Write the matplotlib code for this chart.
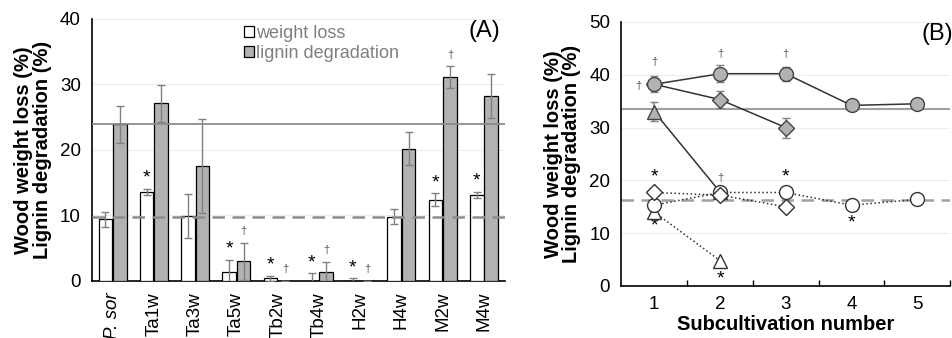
import numpy as np
import matplotlib.pyplot as plt

plt.rcParams['font.family'] = ['Liberation Sans', 'DejaVu Sans']

# panel A data
strains = ['P. sor', 'Ta1w', 'Ta3w', 'Ta5w', 'Tb2w', 'Tb4w', 'H2w', 'H4w', 'M2w', 'M4w']
weight_loss = [9.4, 13.6, 9.9, 1.4, 0.4, 0.0, 0.0, 9.8, 12.4, 13.1]
weight_err = [1.1, 0.5, 3.3, 1.8, 0.4, 1.2, 0.4, 1.1, 1.0, 0.5]
lignin_deg = [23.9, 27.1, 17.5, 3.0, 0.0, 1.4, 0.0, 20.2, 31.1, 28.2]
lignin_err = [2.8, 2.8, 7.2, 2.8, 0.0, 1.5, 0.0, 2.5, 1.7, 3.4]
star_a = [1, 3, 4, 5, 6, 8, 9]        # * over weight-loss bars
dagger_a = [3, 4, 5, 6, 8]            # † over lignin bars
ref_lignin_a = 24.0
ref_weight_a = 9.8

# panel B data
sub = [1, 2, 3, 4, 5]
lig_circle = [38.2, 40.2, 40.2, 34.2, 34.5]
lig_circle_err = [1.5, 1.6, 1.3, 0.5, 0.8]
lig_diamond = [38.2, 35.3, 30.0]
lig_diamond_err = [1.0, 1.6, 1.9]
lig_triangle = [33.0, 17.8]
lig_triangle_err = [1.8, 0.5]
wl_circle = [15.3, 17.7, 17.7, 15.3, 16.4]
wl_diamond = [17.7, 17.2, 15.0]
wl_triangle = [14.0, 4.8]
ref_lignin_b = 33.6
ref_weight_b = 16.3

gray = '#b2b2b2'
errc = '#808080'

fig = plt.figure(figsize=(9.53, 3.38), dpi=100)
axA = fig.add_axes([0.0965, 0.169, 0.433, 0.775])
axB = fig.add_axes([0.652, 0.154, 0.345, 0.781])

# ---- panel A ----
x = np.arange(len(strains))
w = 0.33
axA.bar(x - 0.175, weight_loss, w, color='white', edgecolor='black', lw=0.9, zorder=3)
axA.bar(x + 0.175, lignin_deg, w, color=gray, edgecolor='black', lw=0.9, zorder=3)
axA.errorbar(x - 0.175, weight_loss, yerr=weight_err, fmt='none', ecolor=errc,
             capsize=3, elinewidth=1, zorder=4)
axA.errorbar(x + 0.175, lignin_deg, yerr=lignin_err, fmt='none', ecolor=errc,
             capsize=3, elinewidth=1, zorder=4)
axA.axhline(ref_lignin_a, color='#8c8c8c', lw=1.3, zorder=5)
axA.axhline(ref_weight_a, color='#8c8c8c', lw=1.8, ls=(0, (5, 3)), zorder=5)
for i in star_a:
    axA.text(x[i] - 0.175, weight_loss[i] + weight_err[i] + 0.3, '*', ha='center',
             va='bottom', fontsize=14)
for i in dagger_a:
    axA.text(x[i] + 0.175, lignin_deg[i] + lignin_err[i] + 1.0, '†', ha='center',
             va='bottom', fontsize=8, color='#555555')
axA.set_xlim(-0.5, 9.5)
axA.set_ylim(0, 40)
axA.set_yticks([0, 10, 20, 30, 40])
axA.yaxis.grid(True, color='#eeeeee', lw=0.8, zorder=0)
axA.set_xticks(x)
axA.set_xticklabels(strains, rotation=90, fontsize=13.5)
axA.get_xticklabels()[0].set_fontstyle('italic')
axA.tick_params(axis='x', length=0, pad=8)
axA.tick_params(axis='y', length=0, labelsize=13.5, pad=8)
for s in ['top', 'right']:
    axA.spines[s].set_visible(False)
axA.spines['left'].set_linewidth(1.2)
axA.spines['bottom'].set_linewidth(1.2)
axA.set_ylabel('Wood weight loss (%)\nLignin degradation (%)', fontsize=14.5,
               fontweight='bold', labelpad=6, linespacing=0.95)
axA.text(9.4, 39.8, '(A)', fontsize=17, ha='right', va='top')
h1 = plt.Rectangle((0, 0), 1, 1, fc='white', ec='black', lw=0.9)
h2 = plt.Rectangle((0, 0), 1, 1, fc=gray, ec='black', lw=0.9)
leg = axA.legend([h1, h2], ['weight loss', 'lignin degradation'], loc='upper left',
                 bbox_to_anchor=(0.33, 1.04), frameon=False, fontsize=13,
                 handlelength=0.55, handleheight=0.55, handletextpad=0.1,
                 labelspacing=0.2)
for t in leg.get_texts():
    t.set_color('#808080')

# ---- panel B ----
ms = 10
axB.axhline(ref_lignin_b, color='#a0a0a0', lw=1.5, zorder=1)
axB.axhline(ref_weight_b, color='#a0a0a0', lw=1.8, ls=(0, (5, 3)), zorder=1)
axB.errorbar(sub[:2], lig_triangle, yerr=lig_triangle_err, color='#333333', lw=1.1,
             marker='^', ms=ms, mfc=gray, mec='#444444', ecolor=errc, capsize=3, zorder=3)
axB.errorbar(sub[:3], lig_diamond, yerr=lig_diamond_err, color='#333333', lw=1.1,
             marker='D', ms=8, mfc=gray, mec='#444444', ecolor=errc, capsize=3, zorder=3)
axB.errorbar(sub, lig_circle, yerr=lig_circle_err, color='#333333', lw=1.1,
             marker='o', ms=ms, mfc=gray, mec='#444444', ecolor=errc, capsize=3, zorder=4)
axB.plot(sub[:2], wl_triangle, color='#333333', lw=1.1, ls=':', marker='^', ms=ms,
         mfc='white', mec='#333333', zorder=5)
axB.plot(sub, wl_circle, color='#333333', lw=1.1, ls=':', marker='o', ms=ms,
         mfc='white', mec='#333333', zorder=5)
axB.plot(sub[:3], wl_diamond, color='#333333', lw=1.1, ls=':', marker='D', ms=8,
         mfc='white', mec='#333333', zorder=6)
# significance marks
for xx, yy in [(1, 41.5), (0.76, 37.0), (2, 43.0), (3, 43.0), (2, 19.5)]:
    axB.text(xx, yy, '†', ha='center', va='bottom', fontsize=8, color='#555555')
for xx, yy in [(1, 19.0), (3, 19.0)]:
    axB.text(xx, yy, '*', ha='center', va='bottom', fontsize=14)
for xx, yy in [(1, 13.0), (2, 3.0), (4, 13.6)]:
    axB.text(xx, yy, '*', ha='center', va='top', fontsize=14)
axB.set_xlim(0.5, 5.5)
axB.set_ylim(0, 50)
axB.set_yticks([0, 10, 20, 30, 40, 50])
axB.yaxis.grid(True, color='#eeeeee', lw=0.8, zorder=0)
axB.set_xticks(sub)
axB.set_xticks([1.5, 2.5, 3.5, 4.5, 5.5], minor=True)
axB.tick_params(axis='x', which='major', length=0, labelsize=13.5, pad=7)
axB.tick_params(axis='x', which='minor', direction='in', length=4, width=1)
axB.tick_params(axis='y', length=0, labelsize=13.5, pad=8)
for s in ['top', 'right']:
    axB.spines[s].set_visible(False)
axB.spines['left'].set_linewidth(1.2)
axB.spines['bottom'].set_linewidth(1.2)
axB.set_ylabel('Wood weight loss (%)\nLignin degradation (%)', fontsize=14.5,
               fontweight='bold', labelpad=6, linespacing=0.95)
axB.set_xlabel('Subcultivation number', fontsize=14.5, fontweight='bold', labelpad=2)
axB.text(5.55, 49.8, '(B)', fontsize=17, ha='right', va='top')

fig.savefig('out.png', dpi=100)
